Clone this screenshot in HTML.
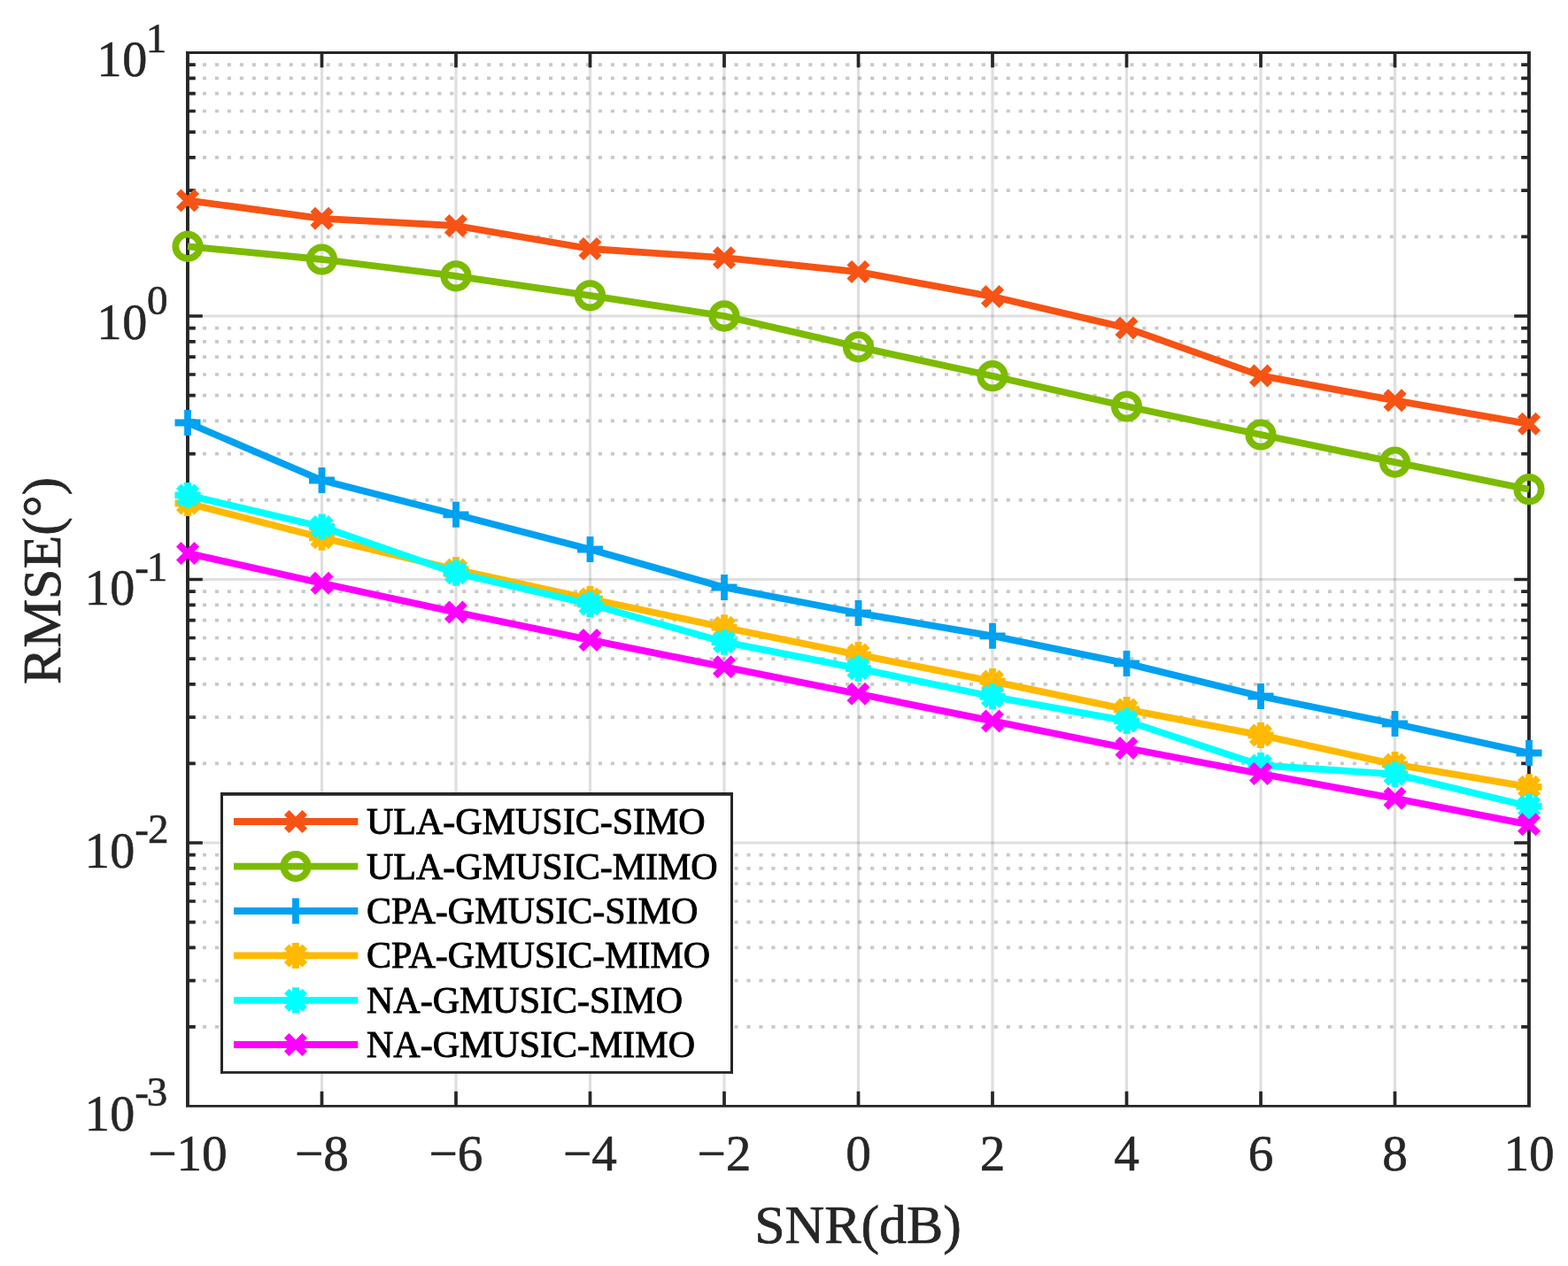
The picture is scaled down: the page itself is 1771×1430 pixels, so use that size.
<!DOCTYPE html><html><head><meta charset="utf-8"><title>RMSE vs SNR</title><style>html,body{margin:0;padding:0;background:#fff;}svg{display:block}text{font-family:"Liberation Serif","Times New Roman",serif;}</style></head><body>
<svg width="1771" height="1430" viewBox="0 0 1771 1430">
<rect x="0" y="0" width="1771" height="1430" fill="#fff"/>
<path d="M212.0 1159.94H1727.0M212.0 1107.56H1727.0M212.0 1070.39H1727.0M212.0 1041.56H1727.0M212.0 1018.00H1727.0M212.0 998.08H1727.0M212.0 980.83H1727.0M212.0 965.61H1727.0M212.0 862.44H1727.0M212.0 810.06H1727.0M212.0 772.89H1727.0M212.0 744.06H1727.0M212.0 720.50H1727.0M212.0 700.58H1727.0M212.0 683.33H1727.0M212.0 668.11H1727.0M212.0 564.94H1727.0M212.0 512.56H1727.0M212.0 475.39H1727.0M212.0 446.56H1727.0M212.0 423.00H1727.0M212.0 403.08H1727.0M212.0 385.83H1727.0M212.0 370.61H1727.0M212.0 267.44H1727.0M212.0 215.06H1727.0M212.0 177.89H1727.0M212.0 149.06H1727.0M212.0 125.50H1727.0M212.0 105.58H1727.0M212.0 88.33H1727.0M212.0 73.11H1727.0" stroke="#262626" stroke-opacity="0.25" stroke-width="3.7" stroke-dasharray="4.1 9.866" stroke-dashoffset="10.986" fill="none"/>
<path d="M212.0 952.00H1727.0M212.0 654.50H1727.0M212.0 357.00H1727.0" stroke="#262626" stroke-opacity="0.15" stroke-width="3.2" fill="none"/>
<path d="M363.50 59.5V1249.5" stroke="#262626" stroke-opacity="0.15" stroke-width="3.2" fill="none"/>
<path d="M515.00 59.5V1249.5" stroke="#262626" stroke-opacity="0.15" stroke-width="3.2" fill="none"/>
<path d="M666.50 59.5V1249.5" stroke="#262626" stroke-opacity="0.15" stroke-width="3.2" fill="none"/>
<path d="M818.00 59.5V1249.5" stroke="#262626" stroke-opacity="0.15" stroke-width="3.2" fill="none"/>
<path d="M969.50 59.5V1249.5" stroke="#262626" stroke-opacity="0.15" stroke-width="3.2" fill="none"/>
<path d="M1121.00 59.5V1249.5" stroke="#262626" stroke-opacity="0.15" stroke-width="3.2" fill="none"/>
<path d="M1272.50 59.5V1249.5" stroke="#262626" stroke-opacity="0.15" stroke-width="3.2" fill="none"/>
<path d="M1424.00 59.5V1249.5" stroke="#262626" stroke-opacity="0.15" stroke-width="3.2" fill="none"/>
<path d="M1575.50 59.5V1249.5" stroke="#262626" stroke-opacity="0.15" stroke-width="3.2" fill="none"/>
<path d="M212.0 1159.94h8.8M1727.0 1159.94h-8.8M212.0 1107.56h8.8M1727.0 1107.56h-8.8M212.0 1070.39h8.8M1727.0 1070.39h-8.8M212.0 1041.56h8.8M1727.0 1041.56h-8.8M212.0 1018.00h8.8M1727.0 1018.00h-8.8M212.0 998.08h8.8M1727.0 998.08h-8.8M212.0 980.83h8.8M1727.0 980.83h-8.8M212.0 965.61h8.8M1727.0 965.61h-8.8M212.0 952.00h16.8M1727.0 952.00h-16.8M212.0 862.44h8.8M1727.0 862.44h-8.8M212.0 810.06h8.8M1727.0 810.06h-8.8M212.0 772.89h8.8M1727.0 772.89h-8.8M212.0 744.06h8.8M1727.0 744.06h-8.8M212.0 720.50h8.8M1727.0 720.50h-8.8M212.0 700.58h8.8M1727.0 700.58h-8.8M212.0 683.33h8.8M1727.0 683.33h-8.8M212.0 668.11h8.8M1727.0 668.11h-8.8M212.0 654.50h16.8M1727.0 654.50h-16.8M212.0 564.94h8.8M1727.0 564.94h-8.8M212.0 512.56h8.8M1727.0 512.56h-8.8M212.0 475.39h8.8M1727.0 475.39h-8.8M212.0 446.56h8.8M1727.0 446.56h-8.8M212.0 423.00h8.8M1727.0 423.00h-8.8M212.0 403.08h8.8M1727.0 403.08h-8.8M212.0 385.83h8.8M1727.0 385.83h-8.8M212.0 370.61h8.8M1727.0 370.61h-8.8M212.0 357.00h16.8M1727.0 357.00h-16.8M212.0 267.44h8.8M1727.0 267.44h-8.8M212.0 215.06h8.8M1727.0 215.06h-8.8M212.0 177.89h8.8M1727.0 177.89h-8.8M212.0 149.06h8.8M1727.0 149.06h-8.8M212.0 125.50h8.8M1727.0 125.50h-8.8M212.0 105.58h8.8M1727.0 105.58h-8.8M212.0 88.33h8.8M1727.0 88.33h-8.8M212.0 73.11h8.8M1727.0 73.11h-8.8M363.50 1249.5v-16.8M363.50 59.5v16.8M515.00 1249.5v-16.8M515.00 59.5v16.8M666.50 1249.5v-16.8M666.50 59.5v16.8M818.00 1249.5v-16.8M818.00 59.5v16.8M969.50 1249.5v-16.8M969.50 59.5v16.8M1121.00 1249.5v-16.8M1121.00 59.5v16.8M1272.50 1249.5v-16.8M1272.50 59.5v16.8M1424.00 1249.5v-16.8M1424.00 59.5v16.8M1575.50 1249.5v-16.8M1575.50 59.5v16.8" stroke="#262626" stroke-width="3.7" fill="none"/>
<path d="M210 58.1H1728.9V61.0H210ZM210 1247.9H1728.9V1250.8H210ZM210 58.1H213.9V1250.8H210ZM1725 58.1H1728.9V1250.8H1725Z" fill="#262626"/>
<text x="212.00" y="1321.6" font-size="57.2" fill="#262626" stroke="#262626" stroke-width="0.6" text-anchor="middle">−10</text>
<text x="363.50" y="1321.6" font-size="57.2" fill="#262626" stroke="#262626" stroke-width="0.6" text-anchor="middle">−8</text>
<text x="515.00" y="1321.6" font-size="57.2" fill="#262626" stroke="#262626" stroke-width="0.6" text-anchor="middle">−6</text>
<text x="666.50" y="1321.6" font-size="57.2" fill="#262626" stroke="#262626" stroke-width="0.6" text-anchor="middle">−4</text>
<text x="818.00" y="1321.6" font-size="57.2" fill="#262626" stroke="#262626" stroke-width="0.6" text-anchor="middle">−2</text>
<text x="969.50" y="1321.6" font-size="57.2" fill="#262626" stroke="#262626" stroke-width="0.6" text-anchor="middle">0</text>
<text x="1121.00" y="1321.6" font-size="57.2" fill="#262626" stroke="#262626" stroke-width="0.6" text-anchor="middle">2</text>
<text x="1272.50" y="1321.6" font-size="57.2" fill="#262626" stroke="#262626" stroke-width="0.6" text-anchor="middle">4</text>
<text x="1424.00" y="1321.6" font-size="57.2" fill="#262626" stroke="#262626" stroke-width="0.6" text-anchor="middle">6</text>
<text x="1575.50" y="1321.6" font-size="57.2" fill="#262626" stroke="#262626" stroke-width="0.6" text-anchor="middle">8</text>
<text x="1727.00" y="1321.6" font-size="57.2" fill="#262626" stroke="#262626" stroke-width="0.6" text-anchor="middle">10</text>
<text fill="#262626" stroke="#262626" stroke-width="0.6"><tspan x="109.44" y="85.8" font-size="56">1</tspan><tspan x="138.28" y="85.8" font-size="56">0</tspan><tspan x="164.78" y="59.0" font-size="47">1</tspan></text>
<text fill="#262626" stroke="#262626" stroke-width="0.6"><tspan x="109.44" y="382.8" font-size="56">1</tspan><tspan x="138.28" y="382.8" font-size="56">0</tspan><tspan x="165.99" y="355.4" font-size="47">0</tspan></text>
<text fill="#262626" stroke="#262626" stroke-width="0.6"><tspan x="95.84" y="682.8" font-size="56">1</tspan><tspan x="124.28" y="682.8" font-size="56">0</tspan><tspan x="152.25" y="656.0" font-size="47">-</tspan><tspan x="165.78" y="656.0" font-size="47">1</tspan></text>
<text fill="#262626" stroke="#262626" stroke-width="0.6"><tspan x="95.84" y="979.8" font-size="56">1</tspan><tspan x="124.28" y="979.8" font-size="56">0</tspan><tspan x="152.25" y="951.9" font-size="47">-</tspan><tspan x="166.96" y="951.9" font-size="47">2</tspan></text>
<text fill="#262626" stroke="#262626" stroke-width="0.6"><tspan x="95.84" y="1276.9" font-size="56">1</tspan><tspan x="124.28" y="1276.9" font-size="56">0</tspan><tspan x="152.25" y="1249.3" font-size="47">-</tspan><tspan x="165.75" y="1249.3" font-size="47">3</tspan></text>
<text x="969" y="1403.5" font-size="61.8" fill="#262626" stroke="#262626" stroke-width="0.7" text-anchor="middle">SNR(dB)</text>
<text transform="translate(67.6 656) rotate(-90)" x="0" y="0" font-size="61.8" fill="#262626" stroke="#262626" stroke-width="0.7" text-anchor="middle">RMSE(°)</text>
<polyline points="212.00,226.40 363.50,246.80 515.00,255.00 666.50,281.00 818.00,291.20 969.50,307.10 1121.00,335.00 1272.50,370.40 1424.00,424.40 1575.50,452.30 1727.00,478.80" stroke="#F65314" stroke-width="7.8" fill="none" stroke-linejoin="round"/>
<path d="M201.75 216.15L222.25 236.65M201.75 236.65L222.25 216.15M353.25 236.55L373.75 257.05M353.25 257.05L373.75 236.55M504.75 244.75L525.25 265.25M504.75 265.25L525.25 244.75M656.25 270.75L676.75 291.25M656.25 291.25L676.75 270.75M807.75 280.95L828.25 301.45M807.75 301.45L828.25 280.95M959.25 296.85L979.75 317.35M959.25 317.35L979.75 296.85M1110.75 324.75L1131.25 345.25M1110.75 345.25L1131.25 324.75M1262.25 360.15L1282.75 380.65M1262.25 380.65L1282.75 360.15M1413.75 414.15L1434.25 434.65M1413.75 434.65L1434.25 414.15M1565.25 442.05L1585.75 462.55M1565.25 462.55L1585.75 442.05M1716.75 468.55L1737.25 489.05M1716.75 489.05L1737.25 468.55" stroke="#F65314" stroke-width="7.8" fill="none"/>
<polyline points="212.00,278.40 363.50,293.00 515.00,311.80 666.50,333.80 818.00,357.00 969.50,391.90 1121.00,424.70 1272.50,459.00 1424.00,491.00 1575.50,522.10 1727.00,552.70" stroke="#7CBB00" stroke-width="7.8" fill="none" stroke-linejoin="round"/>
<path d="M198.30 278.40a13.7 13.7 0 1 0 27.4 0a13.7 13.7 0 1 0 -27.4 0ZM349.80 293.00a13.7 13.7 0 1 0 27.4 0a13.7 13.7 0 1 0 -27.4 0ZM501.30 311.80a13.7 13.7 0 1 0 27.4 0a13.7 13.7 0 1 0 -27.4 0ZM652.80 333.80a13.7 13.7 0 1 0 27.4 0a13.7 13.7 0 1 0 -27.4 0ZM804.30 357.00a13.7 13.7 0 1 0 27.4 0a13.7 13.7 0 1 0 -27.4 0ZM955.80 391.90a13.7 13.7 0 1 0 27.4 0a13.7 13.7 0 1 0 -27.4 0ZM1107.30 424.70a13.7 13.7 0 1 0 27.4 0a13.7 13.7 0 1 0 -27.4 0ZM1258.80 459.00a13.7 13.7 0 1 0 27.4 0a13.7 13.7 0 1 0 -27.4 0ZM1410.30 491.00a13.7 13.7 0 1 0 27.4 0a13.7 13.7 0 1 0 -27.4 0ZM1561.80 522.10a13.7 13.7 0 1 0 27.4 0a13.7 13.7 0 1 0 -27.4 0ZM1713.30 552.70a13.7 13.7 0 1 0 27.4 0a13.7 13.7 0 1 0 -27.4 0Z" stroke="#7CBB00" stroke-width="7.8" fill="none"/>
<polyline points="212.00,477.50 363.50,542.50 515.00,581.30 666.50,620.50 818.00,663.50 969.50,692.50 1121.00,718.30 1272.50,749.40 1424.00,786.50 1575.50,817.50 1727.00,850.50" stroke="#00A1F1" stroke-width="7.8" fill="none" stroke-linejoin="round"/>
<path d="M197.50 477.50H226.50M212.00 463.00V492.00M349.00 542.50H378.00M363.50 528.00V557.00M500.50 581.30H529.50M515.00 566.80V595.80M652.00 620.50H681.00M666.50 606.00V635.00M803.50 663.50H832.50M818.00 649.00V678.00M955.00 692.50H984.00M969.50 678.00V707.00M1106.50 718.30H1135.50M1121.00 703.80V732.80M1258.00 749.40H1287.00M1272.50 734.90V763.90M1409.50 786.50H1438.50M1424.00 772.00V801.00M1561.00 817.50H1590.00M1575.50 803.00V832.00M1712.50 850.50H1741.50M1727.00 836.00V865.00" stroke="#00A1F1" stroke-width="7.8" fill="none"/>
<polyline points="212.00,568.50 363.50,607.30 515.00,643.40 666.50,676.50 818.00,708.70 969.50,739.60 1121.00,769.60 1272.50,801.40 1424.00,830.40 1575.50,863.40 1727.00,888.80" stroke="#FFB900" stroke-width="7.8" fill="none" stroke-linejoin="round"/>
<path d="M201.75 558.25L222.25 578.75M201.75 578.75L222.25 558.25M197.50 568.50H226.50M212.00 554.00V583.00M353.25 597.05L373.75 617.55M353.25 617.55L373.75 597.05M349.00 607.30H378.00M363.50 592.80V621.80M504.75 633.15L525.25 653.65M504.75 653.65L525.25 633.15M500.50 643.40H529.50M515.00 628.90V657.90M656.25 666.25L676.75 686.75M656.25 686.75L676.75 666.25M652.00 676.50H681.00M666.50 662.00V691.00M807.75 698.45L828.25 718.95M807.75 718.95L828.25 698.45M803.50 708.70H832.50M818.00 694.20V723.20M959.25 729.35L979.75 749.85M959.25 749.85L979.75 729.35M955.00 739.60H984.00M969.50 725.10V754.10M1110.75 759.35L1131.25 779.85M1110.75 779.85L1131.25 759.35M1106.50 769.60H1135.50M1121.00 755.10V784.10M1262.25 791.15L1282.75 811.65M1262.25 811.65L1282.75 791.15M1258.00 801.40H1287.00M1272.50 786.90V815.90M1413.75 820.15L1434.25 840.65M1413.75 840.65L1434.25 820.15M1409.50 830.40H1438.50M1424.00 815.90V844.90M1565.25 853.15L1585.75 873.65M1565.25 873.65L1585.75 853.15M1561.00 863.40H1590.00M1575.50 848.90V877.90M1716.75 878.55L1737.25 899.05M1716.75 899.05L1737.25 878.55M1712.50 888.80H1741.50M1727.00 874.30V903.30" stroke="#FFB900" stroke-width="7.8" fill="none"/>
<polyline points="212.00,559.40 363.50,595.00 515.00,647.30 666.50,682.40 818.00,725.20 969.50,755.20 1121.00,786.80 1272.50,814.40 1424.00,864.50 1575.50,874.40 1727.00,910.70" stroke="#00FFFF" stroke-width="7.8" fill="none" stroke-linejoin="round"/>
<path d="M201.75 549.15L222.25 569.65M201.75 569.65L222.25 549.15M197.50 559.40H226.50M212.00 544.90V573.90M353.25 584.75L373.75 605.25M353.25 605.25L373.75 584.75M349.00 595.00H378.00M363.50 580.50V609.50M504.75 637.05L525.25 657.55M504.75 657.55L525.25 637.05M500.50 647.30H529.50M515.00 632.80V661.80M656.25 672.15L676.75 692.65M656.25 692.65L676.75 672.15M652.00 682.40H681.00M666.50 667.90V696.90M807.75 714.95L828.25 735.45M807.75 735.45L828.25 714.95M803.50 725.20H832.50M818.00 710.70V739.70M959.25 744.95L979.75 765.45M959.25 765.45L979.75 744.95M955.00 755.20H984.00M969.50 740.70V769.70M1110.75 776.55L1131.25 797.05M1110.75 797.05L1131.25 776.55M1106.50 786.80H1135.50M1121.00 772.30V801.30M1262.25 804.15L1282.75 824.65M1262.25 824.65L1282.75 804.15M1258.00 814.40H1287.00M1272.50 799.90V828.90M1413.75 854.25L1434.25 874.75M1413.75 874.75L1434.25 854.25M1409.50 864.50H1438.50M1424.00 850.00V879.00M1565.25 864.15L1585.75 884.65M1565.25 884.65L1585.75 864.15M1561.00 874.40H1590.00M1575.50 859.90V888.90M1716.75 900.45L1737.25 920.95M1716.75 920.95L1737.25 900.45M1712.50 910.70H1741.50M1727.00 896.20V925.20" stroke="#00FFFF" stroke-width="7.8" fill="none"/>
<polyline points="212.00,624.90 363.50,658.80 515.00,691.50 666.50,722.90 818.00,753.30 969.50,783.80 1121.00,814.40 1272.50,845.00 1424.00,874.00 1575.50,901.80 1727.00,931.30" stroke="#FF00FF" stroke-width="7.8" fill="none" stroke-linejoin="round"/>
<path d="M201.75 614.65L222.25 635.15M201.75 635.15L222.25 614.65M353.25 648.55L373.75 669.05M353.25 669.05L373.75 648.55M504.75 681.25L525.25 701.75M504.75 701.75L525.25 681.25M656.25 712.65L676.75 733.15M656.25 733.15L676.75 712.65M807.75 743.05L828.25 763.55M807.75 763.55L828.25 743.05M959.25 773.55L979.75 794.05M959.25 794.05L979.75 773.55M1110.75 804.15L1131.25 824.65M1110.75 824.65L1131.25 804.15M1262.25 834.75L1282.75 855.25M1262.25 855.25L1282.75 834.75M1413.75 863.75L1434.25 884.25M1413.75 884.25L1434.25 863.75M1565.25 891.55L1585.75 912.05M1565.25 912.05L1585.75 891.55M1716.75 921.05L1737.25 941.55M1716.75 941.55L1737.25 921.05" stroke="#FF00FF" stroke-width="7.8" fill="none"/>
<rect x="250.5" y="897" width="576" height="314" fill="#fff" stroke="none"/>
<path d="M249 895H828V1212.6H249Z" fill="none" stroke="none"/>
<rect x="249" y="895" width="3" height="317.6" fill="#262626"/>
<rect x="825" y="895" width="3" height="317.6" fill="#262626"/>
<rect x="249" y="895" width="579" height="3.8" fill="#262626"/>
<rect x="249" y="1210" width="579" height="2.8" fill="#262626"/>
<path d="M264 928.0H404.3" stroke="#F65314" stroke-width="7.8" fill="none"/>
<path d="M323.75 917.75L344.25 938.25M323.75 938.25L344.25 917.75" stroke="#F65314" stroke-width="7.8" fill="none"/>
<text x="414" y="942.0" font-size="42" fill="#000" stroke="#000" stroke-width="0.9">ULA-GMUSIC-SIMO</text>
<path d="M264 978.6H404.3" stroke="#7CBB00" stroke-width="7.8" fill="none"/>
<path d="M320.30 978.60a13.7 13.7 0 1 0 27.4 0a13.7 13.7 0 1 0 -27.4 0Z" stroke="#7CBB00" stroke-width="7.8" fill="none"/>
<text x="414" y="992.6" font-size="42" fill="#000" stroke="#000" stroke-width="0.9">ULA-GMUSIC-MIMO</text>
<path d="M264 1029.0H404.3" stroke="#00A1F1" stroke-width="7.8" fill="none"/>
<path d="M319.50 1029.00H348.50M334.00 1014.50V1043.50" stroke="#00A1F1" stroke-width="7.8" fill="none"/>
<text x="414" y="1043.0" font-size="42" fill="#000" stroke="#000" stroke-width="0.9">CPA-GMUSIC-SIMO</text>
<path d="M264 1079.4H404.3" stroke="#FFB900" stroke-width="7.8" fill="none"/>
<path d="M323.75 1069.15L344.25 1089.65M323.75 1089.65L344.25 1069.15M319.50 1079.40H348.50M334.00 1064.90V1093.90" stroke="#FFB900" stroke-width="7.8" fill="none"/>
<text x="414" y="1093.4" font-size="42" fill="#000" stroke="#000" stroke-width="0.9">CPA-GMUSIC-MIMO</text>
<path d="M264 1129.8H404.3" stroke="#00FFFF" stroke-width="7.8" fill="none"/>
<path d="M323.75 1119.55L344.25 1140.05M323.75 1140.05L344.25 1119.55M319.50 1129.80H348.50M334.00 1115.30V1144.30" stroke="#00FFFF" stroke-width="7.8" fill="none"/>
<text x="414" y="1143.8" font-size="42" fill="#000" stroke="#000" stroke-width="0.9">NA-GMUSIC-SIMO</text>
<path d="M264 1180.0H404.3" stroke="#FF00FF" stroke-width="7.8" fill="none"/>
<path d="M323.75 1169.75L344.25 1190.25M323.75 1190.25L344.25 1169.75" stroke="#FF00FF" stroke-width="7.8" fill="none"/>
<text x="414" y="1194.0" font-size="42" fill="#000" stroke="#000" stroke-width="0.9">NA-GMUSIC-MIMO</text>
</svg></body></html>
